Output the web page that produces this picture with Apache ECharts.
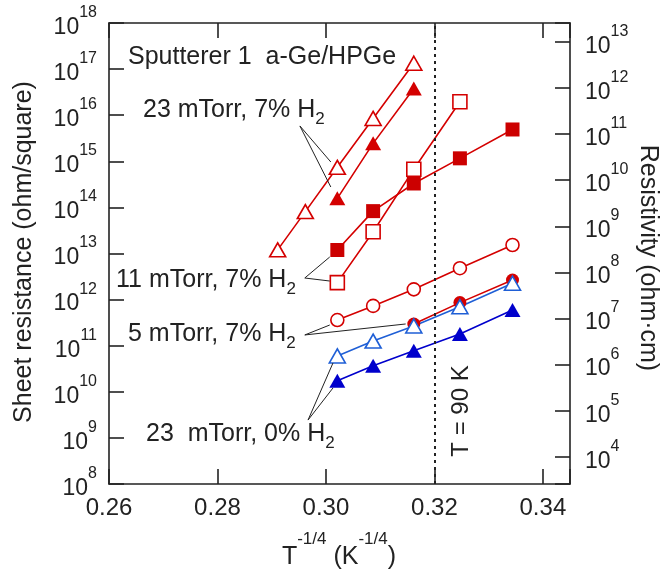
<!DOCTYPE html>
<html>
<head>
<meta charset="utf-8">
<script src="https://cdn.jsdelivr.net/npm/echarts@6/dist/echarts.min.js"></script>
<style>html,body{margin:0;padding:0;background:#fff;}#c{width:664px;height:577px;}</style>
</head>
<body>
<div id="c"></div>
<script>
// T^-1/4 positions (K^-1/4)
const xAll = [0.2911, 0.2962, 0.3021, 0.3087, 0.3162, 0.3247, 0.3344];
const x23h7Open = [0.2911, 0.2962, 0.3021, 0.3087, 0.3162];
const y23h7Open = [1.2e13, 8.1e13, 7.4e14, 8.5e15, 1.34e17];
const x23h7Filled = [0.3021, 0.3087, 0.3162];
const y23h7Filled = [1.57e14, 2.45e15, 3.8e16];
const x11Open = [0.3021, 0.3087, 0.3162, 0.3247];
const y11Open = [2.33e12, 2.97e13, 6.7e14, 1.96e16];
const x11Filled = [0.3021, 0.3087, 0.3162, 0.3247, 0.3344];
const y11Filled = [1.19e13, 8.3e13, 3.3e14, 1.16e15, 4.9e15];
const x5Open = [0.3021, 0.3087, 0.3162, 0.3247, 0.3344];
const y5Open = [3.6e11, 7.3e11, 1.67e12, 4.8e12, 1.53e13];
const x5Filled = [0.3162, 0.3247, 0.3344];
const y5Filled = [2.96e11, 8.6e11, 2.66e12];
const x0Open = [0.3021, 0.3087, 0.3162, 0.3247, 0.3344];
const y0Open = [6.0e10, 1.26e11, 2.67e11, 7.0e11, 2.26e12];
const x0Filled = [0.3021, 0.3087, 0.3162, 0.3247, 0.3344];
const y0Filled = [1.74e10, 3.68e10, 7.8e10, 1.79e11, 5.94e11];
const xTickLabels = ['0.26', '0.28', '0.30', '0.32', '0.34'];
const tLine = 0.3247;

const RED = '#d40000';
const BLUE = '#0000cc';
const LBLUE = '#1f5fd6';
const FONT = 'Liberation Sans, Arial, Helvetica, sans-serif';

function pairs(xs, ys) { return xs.map((x, i) => [x, ys[i]]); }

function lineSeries(name, xs, ys, symbol, size, color, open, lineColor) {
  return {
    name: name, type: 'line', data: pairs(xs, ys),
    symbol: symbol, symbolSize: size, showSymbol: true,
    xAxisIndex: 0, yAxisIndex: 0,
    lineStyle: { color: lineColor || color, width: 1.6 },
    itemStyle: open ? { color: '#ffffff', borderColor: color, borderWidth: 1.6 }
                    : { color: color, borderColor: color, borderWidth: 0 },
    emphasis: { disabled: true }
  };
}

const supRich = {
  b: { fontSize: 23, fontFamily: FONT, color: '#222', padding: [9, 0, 0, 0] },
  s: { fontSize: 16, fontFamily: FONT, color: '#222', padding: [0, 0, 21, 0] }
};

const arrows = [
  [[0.2952, 5.84e15], [0.3009, 9.66e14]],
  [[0.2952, 5.84e15], [0.3009, 2.77e14]],
  [[0.2961, 2.94e12], [0.3007, 8.4e12]],
  [[0.2961, 2.94e12], [0.3007, 2.53e12]],
  [[0.2961, 1.71e11], [0.3007, 2.81e11]],
  [[0.2961, 1.71e11], [0.3147, 2.96e11]],
  [[0.2967, 2.44e9], [0.3013, 4.22e10]],
  [[0.2967, 2.44e9], [0.3013, 1.21e10]]
];

const chart = echarts.init(document.getElementById('c'), null, { renderer: 'canvas' });
const axisLineStyle = { color: '#222', width: 1.6 };
const option = {
  animation: false,
  backgroundColor: '#ffffff',
  grid: { left: 109, right: 94, top: 23, bottom: 93, containLabel: false },
  xAxis: [
    {
      type: 'value', position: 'bottom', min: 0.26, max: 0.345, interval: 0.02,
      axisLine: { show: true, lineStyle: axisLineStyle },
      axisTick: { show: true, inside: true, length: 15, lineStyle: axisLineStyle },
      splitLine: { show: false },
      axisLabel: {
        margin: 12, color: '#222', fontSize: 24, fontFamily: FONT,
        formatter: function (v) {
          const k = Math.round((v - 0.26) / 0.02);
          return Math.abs((v - 0.26) / 0.02 - k) < 1e-6 && xTickLabels[k] ? xTickLabels[k] : '';
        }
      }
    },
    {
      type: 'value', position: 'top', min: 0.26, max: 0.345, interval: 0.02,
      axisLine: { show: true, lineStyle: axisLineStyle },
      axisTick: { show: true, inside: true, length: 15, lineStyle: axisLineStyle },
      splitLine: { show: false },
      axisLabel: { show: false }
    }
  ],
  yAxis: [
    {
      type: 'log', logBase: 10, min: 1e8, max: 1e18, interval: 1, position: 'left',
      axisLine: { show: true, lineStyle: axisLineStyle },
      axisTick: { show: true, inside: true, length: 15, lineStyle: axisLineStyle },
      minorTick: { show: false },
      splitLine: { show: false },
      axisLabel: {
        margin: 12, color: '#222',
        formatter: function (v) {
          const e = Math.log10(v);
          if (Math.abs(e - Math.round(e)) > 1e-6) return '';
          return '{b|10}{s|' + Math.round(e) + '}';
        },
        rich: supRich
      }
    },
    {
      type: 'value', min: 3.41, max: 13.41, splitNumber: 10, position: 'right',
      axisLine: { show: true, lineStyle: axisLineStyle },
      axisTick: { show: true, inside: true, length: 15, lineStyle: axisLineStyle },
      splitLine: { show: false },
      axisLabel: {
        margin: 15, color: '#222',
        formatter: function (v) {
          if (Math.abs(v - Math.round(v)) > 1e-6) return '';
          return '{b|10}{s|' + Math.round(v) + '}';
        },
        rich: supRich
      }
    }
  ],
  series: [
    {
      type: 'scatter', data: [], xAxisIndex: 0, yAxisIndex: 0, silent: true,
      markLine: {
        silent: true, symbol: ['none', 'none'], animation: false,
        label: { show: false },
        lineStyle: { color: '#222', type: [3, 4], width: 2 },
        data: [{ xAxis: tLine }]
      }
    },
    {
      type: 'scatter', data: [], xAxisIndex: 0, yAxisIndex: 0, silent: true,
      markLine: {
        silent: true, symbol: ['none', 'arrow'], symbolSize: [0, 9], animation: false,
        label: { show: false },
        lineStyle: { color: '#222', type: 'solid', width: 1 },
        data: arrows.map(a => [{ coord: a[0] }, { coord: a[1] }])
      }
    },
    lineSeries('23 mTorr 7% H2 open', x23h7Open, y23h7Open, 'triangle', [16, 14], RED, true),
    lineSeries('23 mTorr 7% H2 filled', x23h7Filled, y23h7Filled, 'triangle', [16, 14], RED, false),
    lineSeries('11 mTorr 7% H2 open', x11Open, y11Open, 'rect', 14, RED, true),
    lineSeries('11 mTorr 7% H2 filled', x11Filled, y11Filled, 'rect', 14, '#cc0000', false, RED),
    lineSeries('5 mTorr 7% H2 open', x5Open, y5Open, 'circle', 13, RED, true),
    lineSeries('5 mTorr 7% H2 filled', x5Filled, y5Filled, 'circle', 13, RED, false),
    lineSeries('23 mTorr 0% H2 open', x0Open, y0Open, 'triangle', [16, 14], LBLUE, true),
    lineSeries('23 mTorr 0% H2 filled', x0Filled, y0Filled, 'triangle', [16, 14], BLUE, false)
  ],
  graphic: []
};
chart.setOption(option);

const annRich = { sub: { fontSize: 17, fontFamily: FONT, fill: '#222', padding: [18, 0, 0, 0] } };
function ann(text, x, y) {
  return {
    type: 'text', x: x, y: y, z: 100, silent: true,
    style: { text: text, fontSize: 25, fontFamily: FONT, fill: '#222', textAlign: 'left', textVerticalAlign: 'middle', rich: annRich }
  };
}
const nameRich = {
  m: { fontSize: 25, fontFamily: FONT, fill: '#222' },
  s: { fontSize: 17, fontFamily: FONT, fill: '#222', padding: [0, 0, 35, 0] }
};
chart.setOption({
  graphic: [
    ann('Sputterer 1  a-Ge/HPGe', 128, 57),
    ann('23 mTorr, 7% H{sub|2}', 143, 110),
    ann('11 mTorr, 7% H{sub|2}', 116, 280),
    ann('5 mTorr, 7% H{sub|2}', 128, 334),
    ann('23  mTorr, 0% H{sub|2}', 146, 434),
    {
      type: 'text', x: 461, y: 411, rotation: Math.PI / 2, z: 100, silent: true,
      style: { text: 'T = 90 K', fontSize: 24, fontFamily: FONT, fill: '#222', textAlign: 'center', textVerticalAlign: 'middle', backgroundColor: '#fff', padding: [0, 3] }
    },
    {
      type: 'text', x: 339, y: 557, z: 100, silent: true,
      style: { text: '{m|T}{s|-1/4}{m| (K}{s|-1/4}{m|)}', fontFamily: FONT, fill: '#222', textAlign: 'center', textVerticalAlign: 'middle', rich: nameRich }
    },
    {
      type: 'text', x: 24, y: 252, rotation: Math.PI / 2, z: 100, silent: true,
      style: { text: 'Sheet resistance (ohm/square)', fontSize: 25, fontFamily: FONT, fill: '#222', textAlign: 'center', textVerticalAlign: 'middle' }
    },
    {
      type: 'text', x: 648, y: 258, rotation: -Math.PI / 2, z: 100, silent: true,
      style: { text: 'Resistivity (ohm\u00B7cm)', fontSize: 25, fontFamily: FONT, fill: '#222', textAlign: 'center', textVerticalAlign: 'middle' }
    }
  ]
});
</script>
</body>
</html>
